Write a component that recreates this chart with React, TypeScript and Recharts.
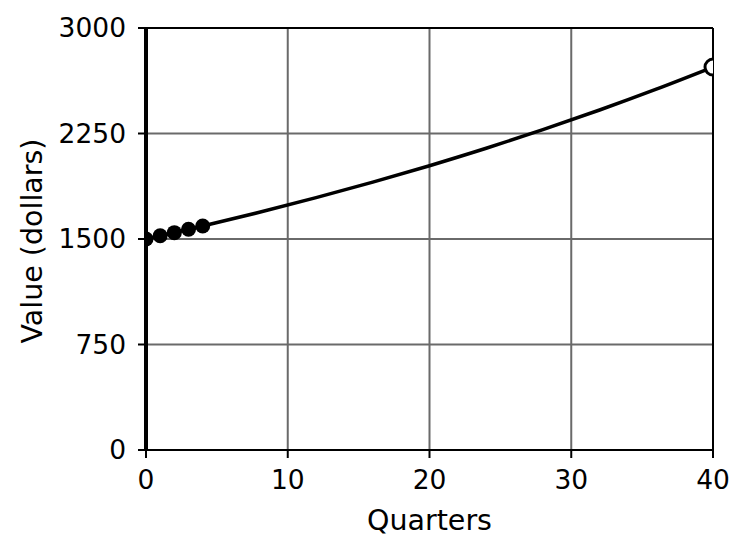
import {
  ComposedChart,
  Line,
  Scatter,
  XAxis,
  YAxis,
  CartesianGrid,
  ReferenceLine,
} from "recharts";

// value of the account, every 4 quarters
const curveQuarters = [0, 4, 8, 12, 16, 20, 24, 28, 32, 36, 40];
const curveValues = [1500, 1592, 1690, 1794, 1904, 2021, 2145, 2277, 2417, 2565, 2722];

// the first year's quarters, drawn as filled dots
const dotQuarters = [0, 1, 2, 3, 4];
const dotValues = [1500, 1523, 1545, 1569, 1592];

// the end value, drawn as an open circle
const endQuarters = [40];
const endValues = [2722];

const xTicks = [0, 10, 20, 30, 40];
const yTicks = [0, 750, 1500, 2250, 3000];

const curve = curveQuarters.map((q, i) => ({ q, v: curveValues[i] }));
const dots = dotQuarters.map((q, i) => ({ q, v: dotValues[i] }));
const end = endQuarters.map((q, i) => ({ q, v: endValues[i] }));

const W = 749;
const H = 554;
// plot box in page pixels
const PLOT = { left: 146, top: 28, right: 713, bottom: 450 };

const FONT = "'DejaVu Sans', sans-serif";
const tickStyle = { fontSize: 26.5, fill: "#000", fontFamily: FONT };

// markers are clipped to the plot box, as matplotlib does:
// a nested svg viewport hides whatever falls outside it
function Clipped({ children }: { children: any }) {
  return (
    <svg
      x={PLOT.left}
      y={PLOT.top}
      width={PLOT.right - PLOT.left}
      height={PLOT.bottom - PLOT.top}
      overflow="hidden"
    >
      <g transform={`translate(${-PLOT.left} ${-PLOT.top})`}>{children}</g>
    </svg>
  );
}

function FilledDot(props: any) {
  return (
    <Clipped>
      <circle cx={props.cx} cy={props.cy} r={7.5} fill="#000" />
    </Clipped>
  );
}

function OpenDot(props: any) {
  return (
    <Clipped>
      <circle
        cx={props.cx}
        cy={props.cy}
        r={8}
        fill="#fff"
        stroke="#000"
        strokeWidth={3}
      />
    </Clipped>
  );
}

export default function App() {
  return (
    <div style={{ position: "absolute", left: 0, top: 0, background: "#fff" }}>
      <ComposedChart
        width={W}
        height={H}
        margin={{ top: PLOT.top, right: W - PLOT.right, bottom: 0, left: 0 }}
      >
        <CartesianGrid stroke="#6a6a6a" strokeWidth={2} />
        <XAxis
          type="number"
          dataKey="q"
          domain={[0, 40]}
          ticks={xTicks}
          interval={0}
          allowDataOverflow
          height={H - PLOT.bottom}
          tickSize={8}
          tickMargin={12}
          tick={tickStyle}
          stroke="#000"
          axisLine={{ stroke: "#000", strokeWidth: 2 }}
          tickLine={{ stroke: "#000", strokeWidth: 2 }}
          label={{
            content: (p: any) => (
              <text
                x={p.viewBox.x + p.viewBox.width / 2}
                y={p.viewBox.y + 80}
                textAnchor="middle"
                fontSize={28.5}
                fontFamily={FONT}
                fill="#000"
              >
                Quarters
              </text>
            ),
          }}
        />
        <YAxis
          type="number"
          domain={[0, 3000]}
          ticks={yTicks}
          interval={0}
          allowDataOverflow
          width={PLOT.left}
          tickSize={8}
          tickMargin={12}
          tick={tickStyle}
          axisLine={{ stroke: "#000", strokeWidth: 4 }}
          tickLine={{ stroke: "#000", strokeWidth: 2 }}
          label={{
            content: (p: any) => {
              const x = p.viewBox.x + 42;
              const y = p.viewBox.y + p.viewBox.height / 2 + 2;
              return (
                <text
                  x={x}
                  y={y}
                  transform={`rotate(-90 ${x} ${y})`}
                  textAnchor="middle"
                  fontSize={28.5}
                  fontFamily={FONT}
                  fill="#000"
                >
                  Value (dollars)
                </text>
              );
            },
          }}
        />
        <Line
          data={curve}
          dataKey="v"
          type="monotone"
          stroke="#000"
          strokeWidth={3.5}
          dot={false}
          activeDot={false}
          isAnimationActive={false}
        />
        <Scatter
          data={dots}
          dataKey="v"
          shape={FilledDot}
          isAnimationActive={false}
        />
        <Scatter
          data={end}
          dataKey="v"
          shape={OpenDot}
          isAnimationActive={false}
        />
        <ReferenceLine y={3000} stroke="#000" strokeWidth={2} />
        <ReferenceLine x={40} stroke="#000" strokeWidth={2} />
        <ReferenceLine x={0} stroke="#000" strokeWidth={4} />
      </ComposedChart>
    </div>
  );
}
